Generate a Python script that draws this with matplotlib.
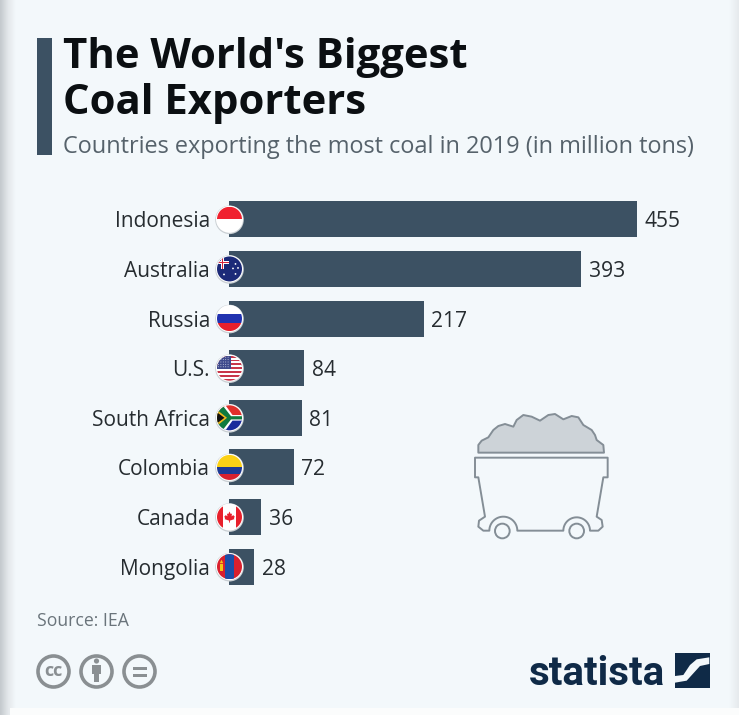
import numpy as np
import matplotlib
matplotlib.use("Agg")
import matplotlib.pyplot as plt
from matplotlib.patches import Circle, Rectangle, Polygon
from matplotlib.transforms import Affine2D

countries = ["Indonesia", "Australia", "Russia", "U.S.", "South Africa", "Colombia", "Canada", "Mongolia"]
exports = [455, 393, 217, 84, 81, 72, 36, 28]
title_lines = ["The World's Biggest", "Coal Exporters"]
subtitle_text = "Countries exporting the most coal in 2019 (in million tons)"
source_text = "Source: IEA"

BG = "#f3f8fb"
BAR = "#3c5163"
INK = "#262c30"
W, H = 739, 715
fig = plt.figure(figsize=(W / 100, H / 100), dpi=100, facecolor=BG)
plt.rcParams["font.family"] = ["Open Sans", "DejaVu Sans"]

# pixel-space layer for page furniture
pg = fig.add_axes([0, 0, 1, 1], zorder=0)
pg.set_xlim(0, W); pg.set_ylim(H, 0); pg.axis("off")
pg.set_facecolor(BG)

# page edges
pg.imshow(np.linspace(0, 1, 32)[None, :], extent=(0, 16, H, 0), aspect="auto",
          cmap=matplotlib.colors.LinearSegmentedColormap.from_list("e", ["#c4c9cd", "#e3e7ea", BG]), zorder=1)
pg.imshow(np.linspace(0, 1, 16)[None, :], extent=(729, 739, H, 0), aspect="auto",
          cmap=matplotlib.colors.LinearSegmentedColormap.from_list("e2", [BG, "#e6eaed"]), zorder=1)
pg.add_patch(Rectangle((10, 708), 729, 7, fc="#fbfcfc", ec="none", zorder=2))
pg.set_xlim(0, W); pg.set_ylim(H, 0)

# title block
pg.add_patch(Rectangle((37, 38), 15, 117, fc=BAR, ec="none"))
pg.text(63, 68, title_lines[0], fontsize=30.2, fontweight="bold", color="#0b0f12", va="baseline", ha="left")
pg.text(63, 114.5, title_lines[1], fontsize=30.2, fontweight="bold", color="#0b0f12", va="baseline", ha="left")
pg.text(63, 147, subtitle_text, fontsize=16.9, color="#56626b", va="center", ha="left")
pg.text(37, 621, source_text, fontsize=12.7, color="#6a747b", va="center", ha="left")

# bars
ax = fig.add_axes([229 / W, 1 - 591.5 / H, (637 - 229) / W, (591.5 - 194.5) / H], zorder=1)
ax.patch.set_alpha(0)
ypos = np.arange(len(countries))
ax.barh(ypos, exports, height=36 / 49.6, color=BAR, linewidth=0)
ax.set_xlim(0, 455)
ax.set_ylim(len(countries) - 0.5, -0.5)
ax.axis("off")
for y, c, v in zip(ypos, countries, exports):
    ax.annotate(str(v), (v, y), xytext=(7.5 * 0.72, 0), textcoords="offset points", va="center_baseline", ha="left",
                fontsize=15.1, color=INK, clip_on=False)
    ax.annotate(c, (0, y), xytext=(-19 * 0.72, 0), textcoords="offset points", va="center_baseline", ha="right",
                fontsize=15.0, color=INK, clip_on=False)

# flags
fl = fig.add_axes([0, 0, 1, 1], zorder=2)
fl.set_xlim(0, W); fl.set_ylim(H, 0); fl.axis("off"); fl.patch.set_alpha(0)
R = 12.5

def stripes(cx, cy, cols, clip):
    n = len(cols)
    for i, col in enumerate(cols):
        p = Rectangle((cx - R, cy - R + 2 * R * i / n), 2 * R, 2 * R / n + 0.2, fc=col, ec="none", zorder=3)
        fl.add_patch(p); p.set_clip_path(clip)

def shape(pts, col, clip, z=4):
    p = Polygon(pts, closed=True, fc=col, ec="none", zorder=z)
    fl.add_patch(p); p.set_clip_path(clip)
    return p

def rect(x, y, w, h, col, clip, z=4):
    p = Rectangle((x, y), w, h, fc=col, ec="none", zorder=z)
    fl.add_patch(p); p.set_clip_path(clip)

def dots(xs, ys, col, clip, s=0.7):
    for x, y in zip(xs, ys):
        c = Circle((x, y), s, fc=col, ec="none", zorder=6)
        fl.add_patch(c); c.set_clip_path(clip)

def flag(name, cx, cy):
    fl.add_patch(Circle((cx, cy + 0.5), R + 1.8, fc="#c9cfd3", ec="none", zorder=2))
    fl.add_patch(Circle((cx, cy), R + 1, fc="white", ec="none", zorder=2.5))
    clip = Circle((cx, cy), R, transform=fl.transData)
    if name == "Indonesia":
        stripes(cx, cy, ["#f0212f", "#ffffff"], clip)
    elif name == "Australia":
        stripes(cx, cy, ["#1c2a78"], clip)
        rect(cx - R, cy - 7.5, 12, 2.6, "#ffffff", clip)
        rect(cx - 8.5, cy - R, 2.6, R, "#ffffff", clip)
        rect(cx - R, cy - 6.9, 12, 1.4, "#d8243a", clip, 5)
        rect(cx - 7.9, cy - R, 1.4, R, "#d8243a", clip, 5)
        dots([cx + 6, cx + 8.5, cx + 3.5, cx + 6, cx - 5.5], [cy - 5, cy - 1, cy - 0.5, cy + 5, cy + 5.5], "#ffffff", clip, 0.9)
    elif name == "Russia":
        stripes(cx, cy, ["#ffffff", "#2233b0", "#e8202c"], clip)
    elif name == "U.S.":
        stripes(cx, cy, ["#c8364a", "#ffffff"] * 6 + ["#c8364a"], clip)
        rect(cx - R, cy - R, R + 1, R + 1, "#3f4a8c", clip)
        gx, gy = np.meshgrid(np.arange(cx - 11, cx + 1, 2.4), np.arange(cy - 11, cy + 1, 2.4))
        dots(gx.ravel(), gy.ravel(), "#e8ebf5", clip, 0.45)
    elif name == "South Africa":
        stripes(cx, cy, ["#e0302c", "#1a2a9c"], clip)
        shape([(cx - R, cy - R), (cx - 4, cy - R), (cx + 3, cy - 2.8), (cx + R, cy - 2.8), (cx + R, cy + 2.8),
               (cx + 3, cy + 2.8), (cx - 4, cy + R), (cx - R, cy + R)], "#ffffff", clip)
        shape([(cx - R, cy - R), (cx - 7, cy - R), (cx + 1.5, cy - 1.6), (cx + R, cy - 1.6), (cx + R, cy + 1.6),
               (cx + 1.5, cy + 1.6), (cx - 7, cy + R), (cx - R, cy + R)], "#0f7a3f", clip, 5)
        shape([(cx - R, cy - 8), (cx - 2.5, cy), (cx - R, cy + 8)], "#f2b81d", clip, 6)
        shape([(cx - R, cy - 5.5), (cx - 5, cy), (cx - R, cy + 5.5)], "#111111", clip, 7)
    elif name == "Colombia":
        stripes(cx, cy, ["#fbd116", "#fbd116", "#1e3a94", "#d9202e"], clip)
    elif name == "Canada":
        stripes(cx, cy, ["#ffffff"], clip)
        rect(cx - R, cy - R, 6.2, 2 * R, "#e8202c", clip)
        rect(cx + R - 6.2, cy - R, 6.2, 2 * R, "#e8202c", clip)
        leaf = [(0, -6.5), (1.5, -3.5), (3, -4.2), (2.4, -0.8), (4.6, -2.4), (5.2, -1), (6.2, -1), (5.2, 1.6), (5.8, 2.4),
                (0.5, 4.2), (0.5, 6.5), (-0.5, 6.5), (-0.5, 4.2), (-5.8, 2.4), (-5.2, 1.6), (-6.2, -1), (-5.2, -1),
                (-4.6, -2.4), (-2.4, -0.8), (-3, -4.2), (-1.5, -3.5)]
        shape([(cx + a * 0.85, cy + b * 0.85) for a, b in leaf], "#e8202c", clip)
    elif name == "Mongolia":
        stripes(cx, cy, ["#d9202e"], clip)
        rect(cx - 4.2, cy - R, 8.4, 2 * R, "#1b4fa8", clip)
        rect(cx - 9.5, cy - 2.5, 3, 7, "#f5c518", clip, 6)
        shape([(cx - 8, cy - 7), (cx - 6.3, cy - 3.5), (cx - 9.7, cy - 3.5)], "#f5c518", clip, 6)

fig.canvas.draw()
for y, c in zip(ypos, countries):
    py = H - ax.transData.transform((0, y))[1]
    flag(c, 229.5, py)

# mine cart (traced in a 3x crop, placed by transform)
CART = "#848e96"
tr = Affine2D().scale(1 / 3).translate(460, 400) + fl.transData
pile = [(55, 158), (55, 135), (65, 122), (85, 112), (100, 90), (115, 78), (135, 72), (160, 80), (170, 60), (190, 45),
        (215, 50), (240, 62), (265, 45), (285, 42), (310, 58), (335, 48), (355, 52), (370, 75), (395, 90), (405, 105),
        (410, 120), (430, 135), (432, 158)]
fl.add_patch(Polygon(pile, closed=True, fc="#cdd3d8", ec=CART, lw=1.4, transform=tr, zorder=3, joinstyle="round"))
def arc(cx, r, a0, a1):
    t = np.radians(np.linspace(a0, a1, 30))
    return list(zip(cx + r * np.cos(t), 392 - r * np.sin(t)))
body = [(45, 173), (443, 173), (443, 232), (430, 232), (410, 350), (425, 360), (428, 380), (415, 392)]
body += arc(350, 40, 0, 180)
body += arc(130, 42, 0, 180)
body += [(70, 392), (55, 380), (57, 362), (75, 350), (55, 232), (45, 232)]
fl.add_patch(Polygon(body, closed=True, fc="none", ec=CART, lw=1.4, transform=tr, zorder=3, joinstyle="round"))
for cx in (127, 350):
    fl.add_patch(Circle((cx, 393), 22, fc="none", ec=CART, lw=1.4, transform=tr, zorder=3))

# licence icons
G = "#8a8f92"
for cx in (53.5, 96.5, 139.5):
    fl.add_patch(Circle((cx, 671.5), 15.5, fc="none", ec=G, lw=2.6, zorder=3))
fl.text(53.5, 671, "cc", fontsize=13, fontweight="bold", color=G, ha="center", va="center")
fl.add_patch(Circle((96.5, 661), 2.6, fc=G, ec="none"))
fl.add_patch(Rectangle((92, 665), 9, 9, fc=G, ec="none"))
fl.add_patch(Rectangle((94, 673), 5, 9, fc=G, ec="none"))
fl.add_patch(Rectangle((132.5, 666.5), 14, 3.2, fc=G, ec="none"))
fl.add_patch(Rectangle((132.5, 673.5), 14, 3.2, fc=G, ec="none"))

# statista logo
NAVY = "#0f2a47"
fl.text(597.5, 685, "statista", fontsize=29, fontweight="bold", color=NAVY, ha="center", va="baseline",
        family=["Roboto", "Liberation Sans"])
fl.add_patch(Rectangle((675, 653), 34.5, 35, fc=NAVY, ec="none", zorder=3))
logo_tr = Affine2D().scale(1 / 3).translate(520, 640) + fl.transData
swoosh = [(465, 108), (490, 105), (510, 75), (530, 58), (568, 52), (568, 72), (540, 78), (520, 100), (500, 122), (465, 128)]
fl.add_patch(Polygon(swoosh, closed=True, fc=BG, ec="none", zorder=4, transform=logo_tr))

fig.savefig("out.png", dpi=100, facecolor=BG)
